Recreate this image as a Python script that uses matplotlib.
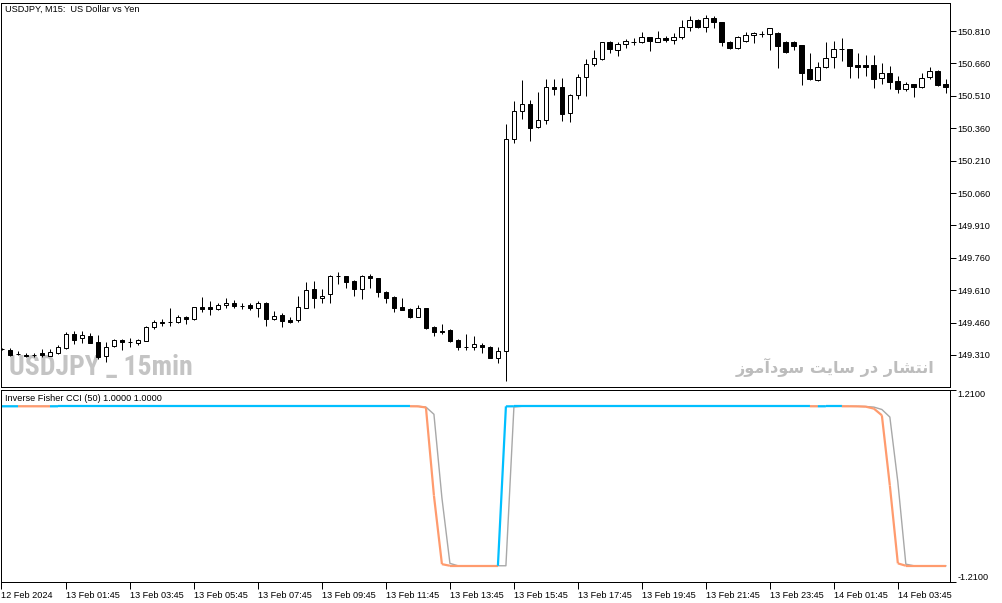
import matplotlib
matplotlib.use("Agg")
import matplotlib.pyplot as plt
from matplotlib.patches import Rectangle
from matplotlib.collections import LineCollection

plt.rcParams["font.family"] = ["Liberation Sans", "DejaVu Sans"]

# USDJPY M15 bars, one row per bar (open, high, low, close); the first bar is cut by the left edge
opens = [149.338,
         149.335, 149.314, 149.310, 149.309, 149.319, 149.307, 149.318, 149.344, 149.407, 149.387,
         149.396, 149.371, 149.307, 149.352, 149.379, 149.371, 149.364, 149.376, 149.441, 149.461,
         149.462, 149.461, 149.486, 149.475, 149.531, 149.531, 149.521, 149.540, 149.551, 149.539,
         149.541, 149.526, 149.549, 149.475, 149.495, 149.471, 149.472, 149.529, 149.615, 149.575,
         149.591, 149.678, 149.676, 149.652, 149.614, 149.678, 149.665, 149.603, 149.580, 149.531,
         149.523, 149.487, 149.526, 149.441, 149.422, 149.426, 149.379, 149.349, 149.348, 149.356,
         149.348, 149.298, 149.328, 150.309, 150.440, 150.471, 150.367, 150.398, 150.549, 150.549,
         150.429, 150.514, 150.596, 150.656, 150.680, 150.758, 150.722, 150.750, 150.761, 150.758,
         150.781, 150.760, 150.776, 150.768, 150.781, 150.827, 150.861, 150.827, 150.869, 150.850,
         150.758, 150.733, 150.765, 150.791, 150.796, 150.795, 150.799, 150.760, 150.758, 150.745,
         150.633, 150.583, 150.642, 150.688, 150.727, 150.725, 150.653, 150.653, 150.653, 150.591,
         150.614, 150.579, 150.540, 150.563, 150.549, 150.596, 150.625, 150.563]
highs = [149.344,
         149.341, 149.330, 149.318, 149.318, 149.338, 149.338, 149.356, 149.418, 149.422, 149.422,
         149.410, 149.402, 149.369, 149.383, 149.383, 149.387, 149.384, 149.443, 149.472, 149.477,
         149.529, 149.495, 149.492, 149.534, 149.578, 149.562, 149.552, 149.572, 149.563, 149.551,
         149.552, 149.560, 149.557, 149.515, 149.506, 149.487, 149.583, 149.649, 149.652, 149.615,
         149.679, 149.693, 149.678, 149.655, 149.681, 149.685, 149.666, 149.606, 149.583, 149.572,
         149.529, 149.541, 149.528, 149.443, 149.452, 149.429, 149.384, 149.407, 149.399, 149.364,
         149.352, 149.346, 150.379, 150.486, 150.583, 150.491, 150.526, 150.588, 150.588, 150.591,
         150.518, 150.611, 150.680, 150.722, 150.760, 150.764, 150.760, 150.772, 150.776, 150.804,
         150.783, 150.810, 150.788, 150.799, 150.861, 150.881, 150.866, 150.884, 150.879, 150.852,
         150.765, 150.787, 150.804, 150.807, 150.810, 150.823, 150.807, 150.764, 150.764, 150.746,
         150.710, 150.668, 150.760, 150.765, 150.776, 150.726, 150.710, 150.699, 150.699, 150.663,
         150.648, 150.602, 150.573, 150.564, 150.614, 150.642, 150.629, 150.586]
lows = [149.331,
        149.305, 149.308, 149.302, 149.302, 149.302, 149.305, 149.314, 149.338, 149.361, 149.367,
        149.364, 149.291, 149.276, 149.346, 149.333, 149.346, 149.356, 149.375, 149.432, 149.446,
        149.446, 149.457, 149.455, 149.472, 149.510, 149.493, 149.518, 149.528, 149.526, 149.524,
        149.520, 149.484, 149.446, 149.472, 149.441, 149.457, 149.461, 149.526, 149.529, 149.552,
        149.549, 149.637, 149.619, 149.584, 149.568, 149.621, 149.580, 149.552, 149.510, 149.517,
        149.480, 149.484, 149.432, 149.399, 149.407, 149.371, 149.333, 149.335, 149.333, 149.318,
        149.296, 149.274, 149.190, 150.290, 150.401, 150.302, 150.362, 150.379, 150.514, 150.395,
        150.390, 150.494, 150.510, 150.649, 150.676, 150.707, 150.696, 150.733, 150.745, 150.756,
        150.719, 150.758, 150.758, 150.748, 150.773, 150.810, 150.825, 150.807, 150.825, 150.742,
        150.725, 150.727, 150.760, 150.753, 150.781, 150.722, 150.637, 150.709, 150.722, 150.560,
        150.583, 150.580, 150.637, 150.637, 150.672, 150.594, 150.594, 150.603, 150.548, 150.563,
        150.540, 150.522, 150.534, 150.506, 150.548, 150.588, 150.555, 150.524]
closes = [149.336,
          149.310, 149.313, 149.305, 149.308, 149.308, 149.322, 149.348, 149.407, 149.379, 149.404,
          149.367, 149.302, 149.348, 149.379, 149.369, 149.370, 149.379, 149.440, 149.463, 149.460,
          149.461, 149.486, 149.475, 149.531, 149.525, 149.521, 149.540, 149.549, 149.539, 149.538,
          149.526, 149.549, 149.477, 149.490, 149.469, 149.464, 149.531, 149.611, 149.575, 149.584,
          149.676, 149.677, 149.649, 149.614, 149.678, 149.665, 149.600, 149.575, 149.529, 149.518,
          149.487, 149.526, 149.434, 149.415, 149.415, 149.376, 149.348, 149.348, 149.359, 149.346,
          149.298, 149.328, 150.309, 150.440, 150.472, 150.362, 150.398, 150.549, 150.543, 150.424,
          150.514, 150.596, 150.656, 150.684, 150.758, 150.725, 150.748, 150.764, 150.760, 150.781,
          150.764, 150.776, 150.767, 150.781, 150.827, 150.861, 150.827, 150.869, 150.850, 150.760,
          150.730, 150.781, 150.791, 150.799, 150.795, 150.822, 150.742, 150.711, 150.742, 150.614,
          150.586, 150.642, 150.684, 150.725, 150.725, 150.649, 150.645, 150.645, 150.588, 150.614,
          150.575, 150.540, 150.565, 150.549, 150.591, 150.625, 150.560, 150.552]

# Inverse Fisher CCI(50): main line and its signal line
ifish_main = ([0.9997, 0.9998, 0.9999, 0.9998, 0.9997, 0.9996, 0.9995] + [1.0] * 45 +
              [0.999, 0.985, -0.12, -0.98] + [-1.0] * 7 +
              [0.999] + [1.0] * 37 +
              [1.0, 0.9998, 1.0, 1.0, 1.0, 0.9998, 0.999, 0.995, 0.971, 0.887, 0.006, -0.97] +
              [-1.0] * 6)
ifish_signal = ([1.0] * 53 +
                [0.99, 0.9, -0.15, -0.97] + [-1.0] * 7 +
                [0.99] + [1.0] * 40 +
                [1.0, 0.9999, 0.999, 0.997, 0.99, 0.96, 0.865, 0.05, -0.98] +
                [-1.0] * 5)

price_ticks = [149.310, 149.460, 149.610, 149.760, 149.910, 150.060,
               150.210, 150.360, 150.510, 150.660, 150.810]
time_labels = ["12 Feb 2024", "13 Feb 01:45", "13 Feb 03:45", "13 Feb 05:45", "13 Feb 07:45",
               "13 Feb 09:45", "13 Feb 11:45", "13 Feb 13:45", "13 Feb 15:45", "13 Feb 17:45",
               "13 Feb 19:45", "13 Feb 21:45", "13 Feb 23:45", "14 Feb 01:45", "14 Feb 03:45"]

# watermark, logical text: "انتشار در سایت سودآموز" (pre-shaped, visual order)
site_text = "\uFEAF\uFEEE\uFEE3\uFE81\uFEA9\uFEEE\uFEB3 \uFE96\uFEF3\uFE8E\uFEB3 \uFEAD\uFEA9 \uFEAD\uFE8E\uFEB8\uFE98\uFEE7\uFE8D"

FS = 6.6
PX = 0.72  # one pixel in points at dpi 100


def fit_width(fig, txt, width_px):
    # shrink a text until it is no wider than width_px
    r = fig.canvas.get_renderer()
    w = txt.get_window_extent(r).width
    if w > width_px:
        txt.set_fontsize(txt.get_fontsize() * width_px / w)


def main():
    fig = plt.figure(figsize=(10.03, 6.03), dpi=100)
    ax = fig.add_axes([0.001, 0.359, 0.946, 0.636])
    ax2 = fig.add_axes([0.001, 0.034, 0.946, 0.320])

    n = len(opens)
    xlim = (-0.125, 118.5)

    # candles
    for i in range(n):
        o, h, l, c = opens[i], highs[i], lows[i], closes[i]
        ax.vlines(i, l, h, color="black", lw=PX, zorder=2)
        up = c >= o
        ax.add_patch(Rectangle((i - 0.3, min(o, c)), 0.6, max(abs(c - o), 0.0005),
                               facecolor="white" if up else "black",
                               edgecolor="black", lw=PX, zorder=3))

    ax.set_xlim(*xlim)
    ax.set_ylim(149.164, 150.940)
    ax.set_xticks([])
    ax.yaxis.tick_right()
    ax.set_yticks(price_ticks)
    ax.set_yticklabels([f"{p:.3f}" for p in price_ticks])
    ax.tick_params(axis="y", direction="out", length=4, width=PX, pad=1.5, labelsize=FS)

    ax.text(0.004, 0.984, "USDJPY, M15:  US Dollar vs Yen", transform=ax.transAxes,
            fontsize=FS, va="center", ha="left")
    wm = ax.text(0.008, 0.05, "USDJPY _ 15min", transform=ax.transAxes,
                 fontsize=21, fontweight="bold", fontstretch="condensed",
                 color="#C4C4C4", va="center", ha="left", zorder=1,
                 family=["Roboto Condensed", "Liberation Sans Narrow", "Liberation Sans"])
    site = ax.text(0.984, 0.05, site_text, transform=ax.transAxes,
                   fontsize=14, fontweight="bold", color="#BDBDBD", va="center", ha="right",
                   zorder=1, family=["DejaVu Sans"])
    fit_width(fig, wm, 184)
    fit_width(fig, site, 200)

    # indicator
    segs, cols = [], []
    for i in range(1, n):
        v0, v1 = ifish_main[i - 1], ifish_main[i]
        rising = v1 > v0 or (v1 == v0 and v1 > 0)
        segs.append([(i - 1, v0), (i, v1)])
        cols.append("#00BFFF" if rising else "#FF9B6E")
    ax2.plot(range(n), ifish_signal, color="#A8A8A8", lw=1.0, zorder=1)
    ax2.add_collection(LineCollection(segs, colors=cols, linewidths=1.6, zorder=2))

    ax2.set_xlim(*xlim)
    ax2.set_ylim(-1.21, 1.21)
    ax2.yaxis.tick_right()
    ax2.set_yticks([-1.21, 1.21])
    ax2.set_yticklabels(["-1.2100", "1.2100"])
    ylabs = ax2.get_yticklabels()
    ylabs[0].set_va("bottom")
    ylabs[1].set_va("top")
    ax2.tick_params(axis="y", direction="out", length=4, width=PX, pad=1.5, labelsize=FS)

    xt = [xlim[0]] + list(range(8, n, 8))
    ax2.set_xticks(xt)
    ax2.set_xticklabels(time_labels)
    for lab in ax2.get_xticklabels():
        lab.set_ha("left")
    ax2.tick_params(axis="x", direction="out", length=5, width=PX, pad=1, labelsize=FS)
    ax2.text(0.004, 0.956, "Inverse Fisher CCI (50) 1.0000 1.0000", transform=ax2.transAxes,
             fontsize=FS, va="center", ha="left")

    for a in (ax, ax2):
        for s in a.spines.values():
            s.set_linewidth(PX)

    fig.savefig("out.png", dpi=100)


if __name__ == "__main__":
    main()
